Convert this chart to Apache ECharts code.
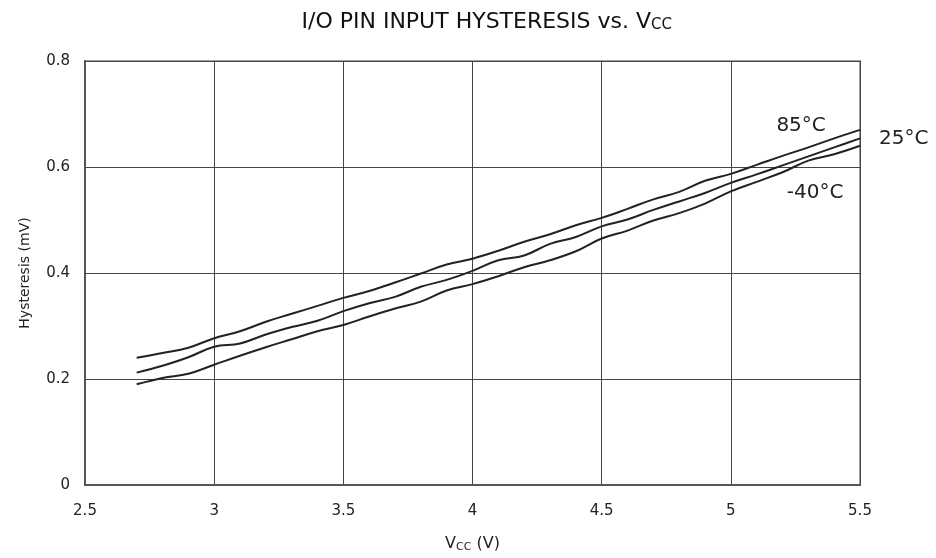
<!DOCTYPE html>
<html>
<head>
<meta charset="utf-8">
<script src="https://cdn.jsdelivr.net/npm/echarts@6/dist/echarts.min.js"></script>
<style>html,body{margin:0;padding:0;background:#fff;}#c{width:936px;height:558px;}</style>
</head>
<body>
<div id="c"></div>
<script>
const vcc = [2.7,2.8,2.9,3.0,3.1,3.2,3.3,3.4,3.5,3.6,3.7,3.8,3.9,4.0,4.1,4.2,4.3,4.4,4.5,4.6,4.7,4.8,4.9,5.0,5.1,5.2,5.3,5.4,5.5];
const h85 = [0.240,0.249,0.259,0.277,0.290,0.308,0.323,0.338,0.353,0.366,0.382,0.399,0.416,0.427,0.442,0.459,0.473,0.490,0.504,0.521,0.539,0.553,0.574,0.587,0.604,0.621,0.637,0.654,0.670];
const h25 = [0.212,0.225,0.241,0.261,0.267,0.284,0.298,0.310,0.328,0.343,0.355,0.374,0.387,0.404,0.424,0.433,0.455,0.468,0.488,0.501,0.519,0.535,0.551,0.570,0.586,0.603,0.620,0.637,0.654];
const hm40 = [0.190,0.202,0.210,0.227,0.244,0.260,0.275,0.290,0.302,0.318,0.333,0.346,0.367,0.379,0.394,0.411,0.424,0.441,0.465,0.480,0.499,0.513,0.531,0.554,0.572,0.590,0.612,0.624,0.640];
const xTicks = [2.5,3,3.5,4,4.5,5,5.5];
const yTicks = [0,0.2,0.4,0.6,0.8];
const seriesNames = ['85°C','25°C','-40°C'];
const labelPos = [[5.272,0.678],null,[5.326,0.551]];

const font = '"DejaVu Sans", sans-serif';
function pairs(ys){ return vcc.map((v,i)=>[v, ys[i]]); }
const all = [h85,h25,hm40];
const chart = echarts.init(document.getElementById('c'), null, {renderer:'canvas'});
chart.setOption({
  backgroundColor:'#fff',
  animation:false,
  title:{
    text:'{a|I/O PIN INPUT HYSTERESIS vs. V}{s|CC}',
    left:667, textAlign:'right', top:4,
    textStyle:{fontWeight:'normal',rich:{
      a:{fontFamily:font,fontSize:22,fontWeight:'normal',color:'#111',verticalAlign:'bottom'},
      s:{fontFamily:font,fontSize:15,fontWeight:'normal',color:'#111',verticalAlign:'bottom',padding:[9,0,0,0]}
    }}
  },
  grid:{left:85,right:76,top:61,bottom:69,show:true,borderColor:'#9aa0a4',borderWidth:2},
  xAxis:{
    type:'value', min:2.5, max:5.5, interval:0.5,
    axisLine:{show:true,lineStyle:{color:'#555',width:2}},
    axisTick:{show:false},
    axisLabel:{margin:19,fontFamily:font,fontSize:15,color:'#222',formatter:v=>String(v)},
    splitLine:{show:true,lineStyle:{color:'#444',width:1}},
    name:'V{s|CC} (V)', nameLocation:'middle', nameGap:50,
    nameTextStyle:{fontFamily:font,fontSize:16,color:'#222',
      rich:{s:{fontFamily:font,fontSize:11,color:'#222',padding:[7,0,0,0]}}}
  },
  yAxis:{
    type:'value', min:0, max:0.8, interval:0.2,
    axisLine:{show:true,lineStyle:{color:'#555',width:2}},
    axisTick:{show:false},
    axisLabel:{margin:15,fontFamily:font,fontSize:15,color:'#222',formatter:v=>String(v)},
    splitLine:{show:true,lineStyle:{color:'#444',width:1}},
    name:'Hysteresis (mV)', nameLocation:'middle', nameGap:53,
    nameTextStyle:{fontFamily:font,fontSize:14,color:'#222'}
  },
  series: all.map((ys,i)=>{
    const s = {
      name:seriesNames[i], type:'line', data:pairs(ys), smooth:0.4, showSymbol:false,
      lineStyle:{color:'#222',width:2}, z:3
    };
    if (labelPos[i]) {
      s.markPoint = {symbol:'circle',symbolSize:0,
        label:{show:true,position:'inside',formatter:seriesNames[i],fontFamily:font,fontSize:20,color:'#222'},
        data:[{coord:labelPos[i]}]};
    } else {
      s.endLabel = {show:true,formatter:seriesNames[i],distance:19,fontFamily:font,fontSize:20,color:'#222'};
    }
    return s;
  })
});
</script>
</body>
</html>
